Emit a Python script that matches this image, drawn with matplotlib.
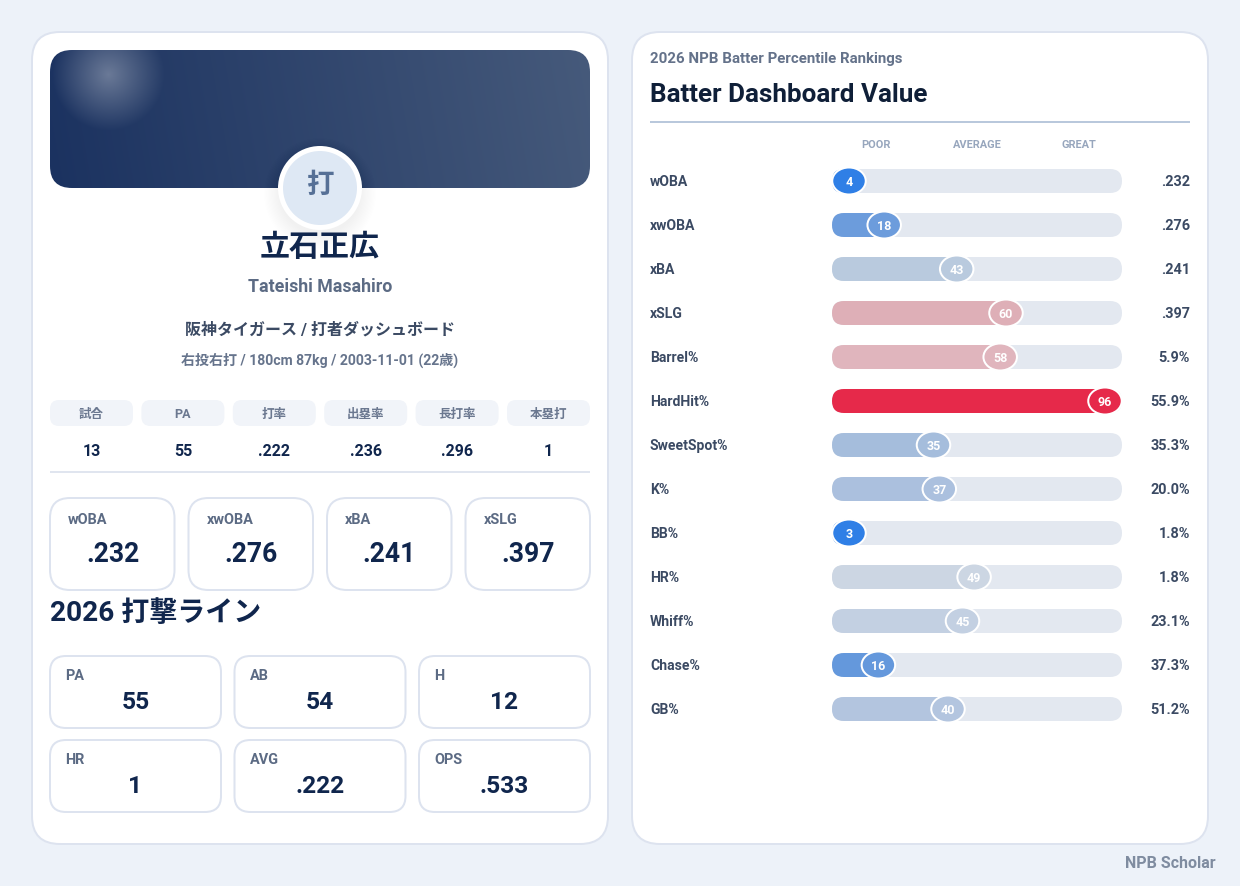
import numpy as np
import matplotlib
matplotlib.use('Agg')
import matplotlib.pyplot as plt
from matplotlib.patches import FancyBboxPatch, Circle, Ellipse

plt.rcParams['font.family'] = ['Roboto', 'Noto Sans CJK JP', 'DejaVu Sans']

metrics = ['wOBA', 'xwOBA', 'xBA', 'xSLG', 'Barrel%', 'HardHit%', 'SweetSpot%', 'K%', 'BB%', 'HR%',
           'Whiff%', 'Chase%', 'GB%']
percentiles = [4, 18, 43, 60, 58, 96, 35, 37, 3, 49, 45, 16, 40]
metric_values = ['.232', '.276', '.241', '.397', '5.9%', '55.9%', '35.3%', '20.0%', '1.8%', '1.8%',
                 '23.1%', '37.3%', '51.2%']
bar_colors = ['#2f7fe6', '#6c9cdc', '#b9cade', '#deafb7', '#e0b5bd', '#e6294a', '#a5bddc', '#abc0de',
              '#2f7fe6', '#ccd6e3', '#c3d0e2', '#6498dc', '#b3c5df']
scale_labels = ['POOR', 'AVERAGE', 'GREAT']
scale_positions = [15, 50, 85]

stat_heads = ['試合', 'PA', '打率', '出塁率', '長打率', '本塁打']
stat_values = ['13', '55', '.222', '.236', '.296', '1']
expected_names = ['wOBA', 'xwOBA', 'xBA', 'xSLG']
expected_values = ['.232', '.276', '.241', '.397']
line_names = ['PA', 'AB', 'H', 'HR', 'AVG', 'OPS']
line_values = ['55', '54', '12', '1', '.222', '.533']

NAVY = '#10264d'
SLATE = '#5c6b84'
DARK = '#3b4a63'
BORDER = '#dde3ef'

fig = plt.figure(figsize=(12.4, 8.86), dpi=100, facecolor='#edf2f9')
ax = fig.add_axes([0, 0, 1, 1])
ax.set_xlim(0, 1240)
ax.set_ylim(886, 0)
ax.axis('off')


def box(x, y, w, h, r, fc='white', ec='none', lw=0, z=2):
    p = FancyBboxPatch((x, y), w, h, boxstyle='round,pad=0,rounding_size=%g' % r, fc=fc, ec=ec,
                       lw=lw * 0.72, zorder=z)
    ax.add_patch(p)
    return p


def label(x, y, s, px, color, weight='bold', ha='center', z=8):
    ax.text(x, y, s, fontsize=px * 0.72, color=color, fontweight=weight, ha=ha, va='center_baseline',
            zorder=z)


# panels
box(32, 32, 576, 812, 28, ec=BORDER, lw=2)
box(632, 32, 576, 812, 28, ec=BORDER, lw=2)

# header banner
yy, xx = np.mgrid[0:138, 0:540]
t = np.clip((xx + 0.18 * (138 - yy)) / 565, 0, 1)[..., None]
c0 = np.array([0x1b, 0x32, 0x60]) / 255
c1 = np.array([0x46, 0x5a, 0x7b]) / 255
img = c0 * (1 - t) + c1 * t
dist = np.sqrt((xx - 58) ** 2 + (yy - 24) ** 2)
glow = (np.clip(1 - dist / 56, 0, 1) * 0.33)[..., None]
img = img * (1 - glow) + glow
clip = box(50, 50, 540, 138, 22, z=3)
im = ax.imshow(img, extent=(50, 590, 188, 50), zorder=3, aspect='auto', interpolation='bilinear')
im.set_clip_path(clip)
ax.set_xlim(0, 1240)
ax.set_ylim(886, 0)

# avatar
for i in range(14):
    ax.add_patch(Circle((320, 194), 56 - i * 1.2, fc='#0f2040', ec='none', alpha=0.005, zorder=4))
ax.add_patch(Circle((320, 188), 39.5, fc='#dee8f4', ec='white', lw=5 * 0.72, zorder=5))
label(320, 182, '打', 27.5, '#567096')

label(320, 245, '立石正広', 30, NAVY)
label(320, 285.5, 'Tateishi Masahiro', 17.8, SLATE)
label(320, 328, '阪神タイガース / 打者ダッシュボード', 16, DARK)
label(320, 358.5, '右投右打 / 180cm 87kg / 2003-11-01 (22歳)', 14, '#66748c')

# stat strip
for i in range(6):
    x = 50 + i * 91.4
    box(x, 400, 83, 26, 9, fc='#f1f4f9')
    label(x + 41.5, 413, stat_heads[i], 12.5, '#6b7890')
    label(x + 41.5, 450, stat_values[i], 16, NAVY)
ax.plot([50, 590], [471.5, 471.5], color='#e0e5ef', lw=2 * 0.72, zorder=2, solid_capstyle='butt')

# expected cards
for i in range(4):
    x = 50 + i * 138.5
    box(x, 498, 124.5, 92, 20, ec=BORDER, lw=2)
    label(x + 18, 519, expected_names[i], 14.5, SLATE, ha='left')
    label(x + 62.5, 551, expected_values[i], 26.5, NAVY)

label(50, 610.5, '2026 打撃ライン', 28, NAVY, ha='left')

# batting line cards
for i in range(6):
    x = 50 + (i % 3) * 184.5
    y = 656 + (i // 3) * 84
    box(x, y, 171, 72, 16, ec=BORDER, lw=2)
    label(x + 15.5, y + 19, line_names[i], 14.5, SLATE, ha='left')
    label(x + 85.5, y + 44, line_values[i], 24.5, NAVY)

# right panel
label(650, 57, '2026 NPB Batter Percentile Rankings', 15, '#64728a', ha='left')
label(650, 92.5, 'Batter Dashboard Value', 26, '#0f1f38', ha='left')
ax.plot([650, 1190], [122, 122], color='#b9c8dc', lw=2 * 0.72, zorder=2, solid_capstyle='butt')

track_x, track_w = 832, 290
for name, pos in zip(scale_labels, scale_positions):
    label(track_x + track_w * pos / 100, 144, name, 11, '#97a6bd')

for i, name in enumerate(metrics):
    y = 181 + 44 * i
    pct, color = percentiles[i], bar_colors[i]
    label(650, y - 0.5, name, 14, DARK, ha='left')
    track = box(track_x, y - 12, track_w, 24, 12, fc='#e3e8f0', z=3)
    knob = np.clip(track_x + track_w * pct / 100, track_x + 17, track_x + track_w - 17)
    fill = ax.barh(y, knob - track_x, height=24, left=track_x, color=color, zorder=4)[0]
    fill.set_clip_path(track)
    ax.add_patch(Ellipse((knob, y), 33.5, 27, fc=color, ec='white', lw=2 * 0.72, zorder=5))
    label(knob, y, str(pct), 12.5, 'white')
    label(1190, y - 0.5, metric_values[i], 14.5, DARK, ha='right')

label(1216, 862, 'NPB Scholar', 16, '#7f8ca0', ha='right')

fig.savefig('out.png', dpi=100, facecolor=fig.get_facecolor())
